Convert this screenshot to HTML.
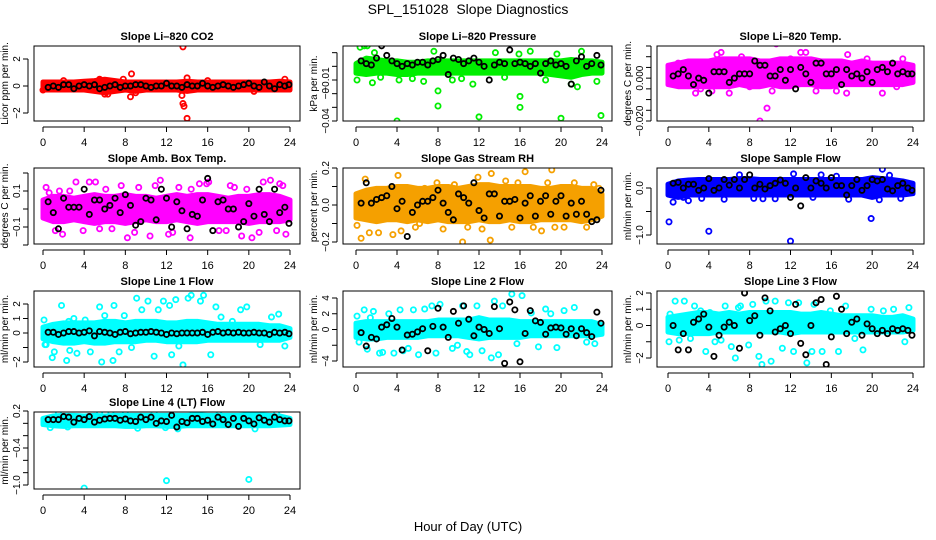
<!DOCTYPE html>
<html><head><meta charset="utf-8"><style>
html,body{margin:0;padding:0;background:#fff;width:936px;height:540px;overflow:hidden}
svg{display:block;font-family:"Liberation Sans",sans-serif}
</style></head><body>
<svg id="chart" width="936" height="540" viewBox="0 0 936 540">
<text x="468" y="14" text-anchor="middle" font-size="14" xml:space="preserve">SPL_151028  Slope Diagnostics</text>
<text x="468" y="531" text-anchor="middle" font-size="13">Hour of Day (UTC)</text>
</svg>
<script>
// ---- shared x categories ----
const hourTicks=[0,4,8,12,16,20,24];
const bandHours=[0,1,2,3,4,5,6,7,8,9,10,11,12,13,14,15,16,17,18,19,20,21,22,23,24];
const blackHours=[0.5,1,1.5,2,2.5,3,3.5,4,4.5,5,5.5,6,6.5,7,7.5,8,8.5,9,9.5,10,10.5,11,11.5,12,12.5,13,13.5,14,14.5,15,15.5,16,16.5,17,17.5,18,18.5,19,19.5,20,20.5,21,21.5,22,22.5,23,23.5,23.9];

// ---- CO2 ----
const co2BandLo=[-0.3,-0.3,-0.3,-0.3,-0.3,-0.4,-0.5,-0.4,-0.3,-0.4,-0.3,-0.3,-0.3,-0.3,-0.4,-0.3,-0.3,-0.3,-0.3,-0.3,-0.3,-0.3,-0.3,-0.3,-0.3];
const co2BandHi=[0.3,0.3,0.3,0.3,0.35,0.4,0.5,0.4,0.3,0.3,0.3,0.3,0.3,0.3,0.35,0.3,0.3,0.3,0.3,0.3,0.3,0.3,0.3,0.35,0.3];
const co2OutH=[13.6,13.6,13.7,14,13.5,8.6,8.5,6,14,23.5,7.8,5.5,6.3,9,0,2,16,20.5];
const co2OutV=[2.9,-1.3,-1.5,-2.4,-0.7,0.9,-0.8,-0.6,0.6,0.5,0.5,0.5,-0.6,-0.5,-0.3,0.4,0.4,-0.4];
const co2Black=[-0.1,0,-0.1,0.1,0.1,-0.2,0,0.1,0,0.1,-0.2,-0.1,0,0.1,-0.1,0,0,0.1,0.1,0,-0.1,0,0,0.2,0,0,-0.1,0.1,0,0,0.2,0,-0.1,0,0.1,0,-0.1,0,0.1,0.2,0,-0.1,0.3,0,-0.2,0.1,0,0.1];
// ---- Pressure ----
const prBandLo=[-0.005,-0.006,-0.005,-0.005,-0.006,-0.006,-0.005,-0.005,-0.005,-0.005,-0.005,-0.005,-0.005,-0.005,-0.005,-0.005,-0.005,-0.005,-0.005,-0.006,-0.007,-0.008,-0.006,-0.005,-0.005];
const prBandHi=[0.002,0.006,0.005,0.004,0.004,0.003,0.003,0.004,0.004,0.004,0.004,0.004,0.004,0.004,0.004,0.004,0.004,0.004,0.004,0.004,0.004,0.005,0.004,0.004,0.003];
const prOutH=[0.4,0.8,1.1,4,8,8,12,16,16,20,23.9,21.6,1.8,7.6,13.6,17,19.6,22,0.1,1.6,4.2,6.6,9.4,11.4,18.5,21,23.5,2.4,15.9,5.5,14.5,10.3];
const prOutV=[0.014,0.015,0.015,-0.04,-0.029,-0.018,-0.037,-0.022,-0.03,-0.038,-0.036,-0.015,0.01,0.011,0.01,0.011,0.009,0.011,-0.01,-0.012,-0.01,-0.011,-0.01,-0.013,-0.01,-0.013,-0.011,-0.008,0.009,-0.009,-0.008,-0.009];
const prBlack=[0.004,0.002,0.001,0.006,0.015,0.008,0.004,0.002,0,0.002,0.001,0.003,0.003,0.001,0.004,0.005,0.008,-0.006,0.006,0.005,0.002,0.004,0.006,0.003,0,-0.01,0.001,0.003,0.002,0.012,0.002,0.003,0.002,0,0.002,-0.005,0.002,0.004,0.001,0.002,0,-0.013,0.004,0.007,0,0.002,0.008,0.001];
// ---- Li-820 Temp ----
const ltBandLo=[-0.003,-0.004,-0.004,-0.004,-0.004,-0.004,-0.004,-0.003,-0.004,-0.004,-0.003,-0.004,-0.004,-0.003,-0.003,-0.004,-0.004,-0.003,-0.003,-0.003,-0.003,-0.003,-0.003,-0.003,-0.002];
const ltBandHi=[0.006,0.007,0.008,0.008,0.008,0.009,0.009,0.009,0.009,0.008,0.008,0.009,0.009,0.009,0.009,0.008,0.008,0.008,0.007,0.008,0.007,0.007,0.007,0.007,0.006];
const ltOutH=[10.6,9,9.7,8,6,21,17.5,16.5,14.5,10.2,4.3,2.7,4.8,5.2,13,13.5,17.6,23,1,12,0.2,3.2,7.2,19.5,22.4];
const ltOutV=[0.016,-0.02,-0.014,-0.004,-0.007,-0.007,-0.007,-0.006,-0.006,-0.006,-0.006,-0.007,0.011,0.012,0.012,0.012,0.011,0.009,0.007,0.009,0.004,-0.005,0.010,0.009,-0.004];
const ltBlack=[0.001,0.002,0.004,0.001,-0.003,0.000,-0.001,-0.007,0.003,0.003,0.003,-0.002,0.000,0.002,0.002,0.002,0.008,0.006,0.006,0.001,0.001,0.004,-0.001,0.004,-0.005,0.005,0.002,-0.002,0.007,0.007,0.002,0.002,0.004,-0.003,0.004,0.001,0.002,0,0.003,-0.002,0.004,0.005,0.003,0.007,0.002,0.003,0.002,0.002];
// ---- Amb Box Temp ----
const abBandLo=[-0.05,-0.07,-0.07,-0.06,-0.07,-0.08,-0.07,-0.07,-0.08,-0.07,-0.06,-0.07,-0.07,-0.06,-0.07,-0.08,-0.07,-0.07,-0.07,-0.07,-0.08,-0.07,-0.07,-0.07,-0.06];
const abBandHi=[0.05,0.07,0.07,0.06,0.07,0.08,0.07,0.07,0.08,0.07,0.07,0.06,0.07,0.08,0.07,0.08,0.08,0.07,0.06,0.07,0.07,0.08,0.08,0.07,0.05];
const abOutH=[0.3,0.6,1.2,1.9,2.6,3.2,4.5,5.5,6.1,7.6,8.2,9.3,10.4,11.4,12.6,13.2,14.3,15.2,16.1,17.8,18.6,19.3,20.3,21.4,22.1,23,23.6,1.6,3.9,5.1,6.7,8.9,10.9,12.2,14.4,15.9,17.1,18.2,19.8,21,22.7,23.3];
const abOutV=[0.12,0.09,-0.12,-0.14,0.10,0.15,0.15,-0.11,0.11,0.13,-0.16,0.12,-0.15,0.16,-0.13,0.12,-0.16,0.14,0.15,-0.12,0.12,-0.15,-0.16,0.15,0.16,0.14,-0.14,0.10,-0.12,0.15,-0.11,-0.13,0.13,-0.14,0.11,0.14,-0.12,0.13,0.11,-0.13,-0.12,0.13];
const abBlack=[0.04,-0.02,-0.11,0.06,0.01,0.01,0.01,0.11,-0.03,0.05,0.05,0.00,0.02,0.06,-0.02,0.08,0.02,-0.09,-0.07,0.06,0.05,-0.06,0.11,0.06,-0.10,0.04,-0.01,-0.11,-0.03,-0.04,0.05,0.17,-0.12,0.04,0.05,0.00,0.00,-0.10,-0.07,0.03,-0.04,0.11,-0.03,-0.07,0.11,-0.02,0.01,-0.08];
// ---- Gas Stream RH ----
const rhBandLo=[-0.07,-0.08,-0.09,-0.08,-0.08,-0.09,-0.08,-0.09,-0.08,-0.09,-0.09,-0.09,-0.08,-0.09,-0.09,-0.08,-0.09,-0.09,-0.08,-0.08,-0.08,-0.08,-0.09,-0.08,-0.06];
const rhBandHi=[0.06,0.08,0.09,0.09,0.1,0.1,0.09,0.09,0.1,0.1,0.09,0.1,0.11,0.11,0.1,0.1,0.1,0.1,0.09,0.09,0.1,0.1,0.09,0.09,0.06];
const rhOutH=[0.1,0.5,0.9,1.3,2.2,3.6,4.1,4.4,5.8,6.7,7.9,8.5,9.6,10.4,11.9,12.3,12.7,13.1,13.2,14.6,15.2,16.5,17.3,18.1,18.7,19.1,19.4,20.3,21.3,22.5,23.2,23.7,6.2,10.9,15.8];
const rhOutV=[-0.11,-0.18,0.14,-0.15,-0.15,-0.16,0.16,-0.14,-0.12,0.09,0.12,-0.13,0.11,-0.2,0.15,-0.13,0.1,-0.19,0.17,0.13,-0.12,0.18,-0.12,-0.14,0.12,0.19,-0.12,-0.12,0.12,-0.12,0.11,0.09,-0.1,-0.12,0.12];
const rhBlack=[0.01,0.12,0.01,0.03,0.04,0.05,0.10,-0.02,0.02,-0.17,-0.04,0.00,0.02,0.02,0.04,0.08,0.01,-0.04,-0.08,0.06,0.04,0.01,0.12,-0.03,-0.07,0.06,0.06,-0.06,0.02,0.02,0.03,-0.07,0.01,0.05,-0.06,0.02,0.05,-0.05,0.02,0.05,-0.06,0.01,-0.05,0.02,-0.05,-0.09,-0.08,0.08];
// ---- Sample Flow ----
const sfBandLo=[-0.15,-0.2,-0.15,-0.15,-0.15,-0.15,-0.15,-0.15,-0.15,-0.15,-0.15,-0.15,-0.15,-0.15,-0.15,-0.15,-0.15,-0.15,-0.15,-0.15,-0.2,-0.15,-0.15,-0.15,-0.12];
const sfBandHi=[0.08,0.15,0.17,0.18,0.18,0.18,0.18,0.2,0.2,0.18,0.18,0.18,0.18,0.18,0.18,0.18,0.18,0.18,0.18,0.18,0.22,0.2,0.18,0.15,0.1];
const sfOutH=[0.1,4,12,19.9,0.5,2,21,12.3,7,15,21.7,5.5,9.3,10.5,14.2,17.7,22.8,1.5,3.3,8.4,16.5,20.7];
const sfOutV=[-0.72,-0.92,-1.13,-0.65,-0.3,-0.27,0.4,0.3,0.28,0.28,0.27,-0.24,-0.23,-0.23,-0.2,-0.24,-0.22,-0.2,-0.22,-0.22,0.25,-0.25];
const sfBlack=[0.1,0.12,0.0,0.08,0.08,-0.05,0.0,0.2,-0.05,0.0,0.18,0.06,0.18,0.0,0.18,0.28,0.0,0.08,-0.02,0.05,0.1,0.17,0.1,-0.2,0.0,-0.38,0.22,0.0,0.15,0.1,0.0,0.22,0.05,0.05,-0.15,0.05,0.18,-0.05,0.05,0.18,0.15,0.18,-0.02,-0.06,0.05,0.1,0.0,-0.05];
// ---- Line 1 ----
const l1BandLo=[-0.4,-0.6,-0.7,-0.7,-0.6,-0.7,-0.7,-0.6,-0.6,-0.6,-0.5,-0.5,-0.6,-0.6,-0.6,-0.6,-0.5,-0.5,-0.5,-0.5,-0.5,-0.5,-0.5,-0.5,-0.3];
const l1BandHi=[0.4,0.6,0.7,0.7,0.7,0.7,0.8,0.8,0.7,0.8,0.8,0.8,0.7,0.7,0.8,0.8,0.7,0.6,0.6,0.6,0.6,0.6,0.5,0.5,0.3];
const l1OutH=[0.1,0.3,0.9,1.1,1.8,2.3,2.5,3,3.3,4.1,4.6,5.5,5.7,6.8,6.9,7.4,7.9,8.6,9.1,10.2,10.8,11.2,11.7,12.3,12.5,12.9,13.6,14.1,14.4,15.3,15.6,16.3,16.8,17.3,18.4,19.2,19.8,21.1,22.2,22.9,23.5,0.2,2.6,6,9.6,13.2];
const l1OutV=[0.9,-0.8,-1.7,-1.3,1.9,-1.9,0.8,1.0,-1.4,0.9,-1.3,1.8,-2.0,-1.9,1.9,-1.3,1.2,-1.0,2.4,2.2,-1.6,1.6,2.2,1.9,-1.5,2.3,-2.2,2.4,2.6,2.2,2.6,-1.5,1.8,1.1,0.8,1.6,1.8,-0.8,1.1,1.3,-0.9,-0.8,-1.2,1.2,1.6,-0.9];
const l1Black=[0.05,0.05,-0.1,0.0,0.1,0.1,0.0,0.05,0.15,-0.2,0.1,0.05,0.0,-0.1,0.05,0.1,-0.05,0.0,0.05,0.05,0.1,0.05,0.0,-0.1,0.0,-0.05,0.0,0.0,0.0,0.0,0.05,-0.1,0.05,0.1,0.0,0.05,0.0,0.05,0.0,0.0,0.05,0.0,0.0,-0.1,0.05,0.0,0.05,-0.05];
// ---- Line 2 ----
const l2BandLo=[-1.0,-1.2,-1.2,-1.0,-1.0,-1.0,-1.0,-0.8,-0.8,-0.8,-0.8,-1.0,-1.2,-1.0,-1.0,-1.0,-1.0,-0.8,-0.8,-0.8,-0.8,-0.8,-0.8,-0.8,-0.6];
const l2BandHi=[0.8,1.0,1.0,1.0,1.0,1.0,1.0,1.0,1.2,1.2,1.2,1.2,1.5,1.2,1.2,1.2,1.0,1.0,1.0,1.0,1.0,1.0,1.0,1.0,0.6];
const l2OutH=[0.1,0.3,0.8,1.1,1.7,2.3,2.6,3.2,3.7,4.3,4.6,5.6,6.1,6.7,7.4,7.8,8.2,9.4,9.9,10.4,11.1,11.8,12.3,13.5,13.9,14.3,15.2,15.7,16.2,17.1,17.8,18.5,19.6,20.3,21.3,22.5,23.3,1.4,5.1,10.8,13.2,19];
const l2OutV=[1.7,-1.6,2.5,-2.5,2.3,-3.0,-2.9,2.0,-3.0,2.5,-2.7,2.5,-3.2,2.6,3.0,-3.0,3.2,-2.4,-2.0,3.0,-3.2,3.0,-2.7,3.6,-3.2,3.0,4.5,-1.8,4.3,2.1,-2.2,2.6,-2.3,2.4,2.8,-1.6,-1.8,1.5,-2.4,-2.8,-3.6,2.0];
const l2Black=[-0.4,-2.1,-1.0,-1.2,0.3,0.6,1.4,0.3,-2.6,-0.7,-0.6,-0.3,0.1,-2.7,0.4,2.7,0.3,-1.0,2.3,0.8,3.0,1.3,-0.8,0.3,0.0,-0.5,2.9,0.1,-4.3,3.5,2.5,-4.1,-0.5,2.4,1.1,0.9,-0.6,0.2,0.3,0.2,-0.6,0.1,-0.8,0.1,-0.4,-0.9,2.2,0.8];
// ---- Line 3 ----
const l3BandLo=[-0.4,-0.5,-0.5,-0.5,-0.5,-0.4,-0.4,-0.4,-0.4,-0.4,-0.4,-0.4,-0.5,-0.4,-0.4,-0.4,-0.4,-0.4,-0.4,-0.4,-0.4,-0.4,-0.4,-0.4,-0.3];
const l3BandHi=[0.5,0.6,0.7,0.8,0.8,0.7,0.8,0.7,0.8,0.8,0.8,0.8,0.8,0.7,0.7,0.8,0.7,0.6,0.6,0.6,0.6,0.5,0.5,0.6,0.4];
const l3OutH=[0.1,0.2,0.7,1.1,1.6,2.2,2.6,3.2,3.7,4.1,4.6,5.2,5.6,6.2,6.6,7.1,7.9,8.3,8.9,9.6,10.1,10.5,11.2,11.8,12.3,12.8,13.6,14.3,15.1,15.9,16.7,17.4,18.3,19.1,19.9,21.1,22.1,23.2,23.6,9.2,6.9,14.1];
const l3OutV=[-1.0,0.7,1.5,-0.9,1.5,-0.8,1.2,0.9,-1.6,0.8,-1.0,-0.9,1.2,-1.3,-2.0,1.2,-1.2,1.3,-1.9,1.5,-2.2,1.5,-1.4,1.4,-1.6,1.4,-2.3,1.3,-1.6,0.9,-1.6,1.2,-0.8,-1.5,1.0,0.9,1.0,-1.0,1.1,-2.4,1.1,-1.6];
const l3Black=[0.0,-1.5,-0.5,-1.5,0.2,0.4,0.7,-0.1,-1.9,-0.6,-0.1,0.2,0.0,-1.4,2.0,0.3,0.6,-0.6,1.7,0.9,-0.4,-0.2,0.0,-0.5,1.3,-1.1,-1.8,0.0,1.4,1.6,-2.4,-0.7,1.8,1.0,-0.5,0.2,0.4,-0.6,0.1,-0.2,-0.5,-0.3,-0.5,-0.2,-0.3,-0.2,-0.3,-0.6];
// ---- Line 4 ----
const l4BandLo=[-0.02,-0.04,-0.05,-0.04,-0.04,-0.04,-0.04,-0.04,-0.05,-0.05,-0.04,-0.04,-0.05,-0.05,-0.04,-0.04,-0.04,-0.04,-0.04,-0.04,-0.04,-0.04,-0.04,-0.03,-0.02];
const l4BandHi=[0.08,0.12,0.13,0.13,0.12,0.13,0.12,0.13,0.13,0.13,0.13,0.13,0.13,0.13,0.13,0.14,0.13,0.13,0.13,0.13,0.14,0.14,0.13,0.12,0.08];
const l4OutH=[4,12,20,0.7,1.5,2.4,5.5,6.6,8,9.2,10.8,11.9,13.1,14.6,15.2,17.1,19.7,21.1,22.7,20.6];
const l4OutV=[-1.05,-0.93,-0.91,-0.07,0.17,-0.06,0.17,0.16,0.16,-0.08,0.17,-0.07,-0.09,0.17,0.18,0.15,0.14,0.17,0.16,-0.09];
const l4Black=[0.06,0.06,0.06,0.11,0.1,0.02,0.08,0.06,0.11,0.02,0.05,0.07,0.08,0.08,0.05,0.07,0.04,0.03,0.1,0.06,0.1,0.0,0.04,0.03,0.13,-0.06,0.03,0.01,0.08,0.08,0.03,0.05,-0.01,0.1,0.06,-0.02,0.08,-0.05,0.08,0.04,-0.01,0.09,0.05,0.02,0.1,0.06,0.04,0.04];

const panels=[
 {id:'co2',title:'Slope Li\u2013820 CO2',ylab:'Licor ppm per min.',col:0,row:0,color:'#ff0000',lo:co2BandLo,hi:co2BandHi,oh:co2OutH,ov:co2OutV,bk:co2Black,cal:[2,59,-2,113],ticks:[-2,0,2],labels:['\u22122','0','2']},
 {id:'pressure',title:'Slope Li\u2013820 Pressure',ylab:'kPa per min.',col:1,row:0,color:'#00ee00',lo:prBandLo,hi:prBandHi,oh:prOutH,ov:prOutV,bk:prBlack,cal:[-0.01,80,-0.04,121],ticks:[0.01,0,-0.01,-0.02,-0.03,-0.04],labels:['','','\u22120.01','\u22120','','\u22120.04']},
 {id:'li820-temp',title:'Slope Li\u2013820 Temp.',ylab:'degrees C per min.',col:2,row:0,color:'#ff00ff',lo:ltBandLo,hi:ltBandHi,oh:ltOutH,ov:ltOutV,bk:ltBlack,cal:[0.015,46,-0.02,121],ticks:[0.015,0.01,0.005,0,-0.005,-0.01,-0.015,-0.02],labels:['','','','0.000','','','','\u22120.020']},
 {id:'amb-box-temp',title:'Slope Amb. Box Temp.',ylab:'degrees C per min.',col:0,row:1,color:'#ff00ff',lo:abBandLo,hi:abBandHi,oh:abOutH,ov:abOutV,bk:abBlack,cal:[0.1,191,-0.1,227],ticks:[0.2,0.1,0,-0.1,-0.2],labels:['','0.1','','\u22120.1','']},
 {id:'gas-stream-rh',title:'Slope Gas Stream RH',ylab:'percent per min.',col:1,row:1,color:'#f5a000',lo:rhBandLo,hi:rhBandHi,oh:rhOutH,ov:rhOutV,bk:rhBlack,cal:[0.2,168,-0.2,242],ticks:[0.2,0.1,0,-0.1,-0.2],labels:['0.2','','0.0','','\u22120.2']},
 {id:'sample-flow',title:'Slope Sample Flow',ylab:'ml/min per min.',col:2,row:1,color:'#0000ff',lo:sfBandLo,hi:sfBandHi,oh:sfOutH,ov:sfOutV,bk:sfBlack,cal:[0,188,-1,235],ticks:[0,-0.5,-1],labels:['0.0','','\u22121.0']},
 {id:'line1-flow',title:'Slope Line 1 Flow',ylab:'ml/min per min.',col:0,row:2,color:'#00ffff',lo:l1BandLo,hi:l1BandHi,oh:l1OutH,ov:l1OutV,bk:l1Black,cal:[2,304,-2,362],ticks:[2,1,0,-1,-2],labels:['2','1','0','','\u22122']},
 {id:'line2-flow',title:'Slope Line 2 Flow',ylab:'ml/min per min.',col:1,row:2,color:'#00ffff',lo:l2BandLo,hi:l2BandHi,oh:l2OutH,ov:l2OutV,bk:l2Black,cal:[4,298,-4,361],ticks:[4,2,0,-2,-4],labels:['4','2','0','','\u22124']},
 {id:'line3-flow',title:'Slope Line 3 Flow',ylab:'ml/min per min.',col:2,row:2,color:'#00ffff',lo:l3BandLo,hi:l3BandHi,oh:l3OutH,ov:l3OutV,bk:l3Black,cal:[2,293,-2,358],ticks:[2,1,0,-1,-2],labels:['2','1','0','','\u22122']},
 {id:'line4-flow',title:'Slope Line 4 (LT) Flow',ylab:'ml/min per min.',col:0,row:3,color:'#00ffff',lo:l4BandLo,hi:l4BandHi,oh:l4OutH,ov:l4OutV,bk:l4Black,cal:[0.2,411,-1,485],ticks:[0.2,0,-0.2,-0.4,-0.6,-0.8,-1],labels:['0.2','','','\u22120.4','','','\u22121.0']}
];
const colGeom=[{l:34,r:300,x0:43,x1:290},{l:343,r:612,x0:356,x1:602},{l:657,r:924,x0:668,x1:913}];
const rowGeom=[{t:46,b:121},{t:168,b:244},{t:291,b:367},{t:412,b:489}];
const NS='http://www.w3.org/2000/svg';
const svg=document.getElementById('chart');
function mk(tag,attrs,parent){const e=document.createElementNS(NS,tag);for(const k in attrs)e.setAttribute(k,attrs[k]);parent.appendChild(e);return e;}

panels.forEach(p=>{
 const cg=colGeom[p.col], rg=rowGeom[p.row];
 const xs=h=>cg.x0+(cg.x1-cg.x0)*h/24;
 const [v1,y1,v2,y2]=p.cal;
 const ys=v=>y1+(v-v1)*(y2-y1)/(v2-v1);
 const g=mk('g',{},svg);
 
 
 const clip=mk('clipPath',{id:'c-'+p.id},g);
 mk('rect',{x:cg.l,y:rg.t,width:cg.r-cg.l,height:rg.b-rg.t},clip);
 const t=mk('text',{x:(cg.l+cg.r)/2,y:rg.t-6,'text-anchor':'middle','font-size':11,'font-weight':'bold'},g);
 t.textContent=p.title;
 
 
 const plot=mk('g',{'clip-path':'url(#c-'+p.id+')'},g);
 
 
 // band of dense points
 let d='M'+bandHours.map((h,i)=>xs(h)+','+ys(p.hi[i])).join('L');
 for(let i=bandHours.length-1;i>=0;i--)d+='L'+xs(bandHours[i])+','+ys(p.lo[i]);
 const band=mk('path',{d:d+'Z',fill:p.color,stroke:p.color,'stroke-width':5,'stroke-linejoin':'round'},plot);
 
 
 p.oh.forEach((h,i)=>{
  const c=mk('circle',{cx:xs(h),cy:ys(p.ov[i]),r:2.6,fill:'none',stroke:p.color,'stroke-width':1.8},plot);
  
  
 });
 blackHours.forEach((h,i)=>{
  const c=mk('circle',{cx:xs(h),cy:ys(p.bk[i]),r:2.6,fill:'none',stroke:'#000','stroke-width':1.8},plot);
  
  
 });
 const box=mk('rect',{x:cg.l,y:rg.t,width:cg.r-cg.l,height:rg.b-rg.t,fill:'none',stroke:'#000','stroke-width':1},g);
 
 
 // x axis
 const xa=mk('g',{},g);
 
 
 const ay=rg.b+6;
 mk('line',{x1:xs(0),x2:xs(24),y1:ay,y2:ay,stroke:'#000'},xa);
 hourTicks.forEach(h=>{
  mk('line',{x1:xs(h),x2:xs(h),y1:ay,y2:ay+5,stroke:'#000'},xa);
  const tl=mk('text',{x:xs(h),y:ay+19,'text-anchor':'middle','font-size':11},xa);
  tl.textContent=h;
 });
 // y axis
 const ya=mk('g',{},g);
 
 
 const ax=cg.l-6;
 mk('line',{x1:ax,x2:ax,y1:ys(p.ticks[0]),y2:ys(p.ticks[p.ticks.length-1]),stroke:'#000'},ya);
 p.ticks.forEach((v,i)=>{
  mk('line',{x1:ax-5,x2:ax,y1:ys(v),y2:ys(v),stroke:'#000'},ya);
  if(p.labels[i]){const tl=mk('text',{x:ax-8,y:ys(v),'text-anchor':'middle','font-size':10,transform:'rotate(-90 '+(ax-8)+' '+ys(v)+')'},ya);tl.textContent=p.labels[i];}
 });
 const yl=mk('text',{x:cg.l-26,y:(rg.t+rg.b)/2,'text-anchor':'middle','font-size':10,transform:'rotate(-90 '+(cg.l-26)+' '+(rg.t+rg.b)/2+')'},g);
 yl.textContent=p.ylab;
 
 
});
</script>
</body></html>
